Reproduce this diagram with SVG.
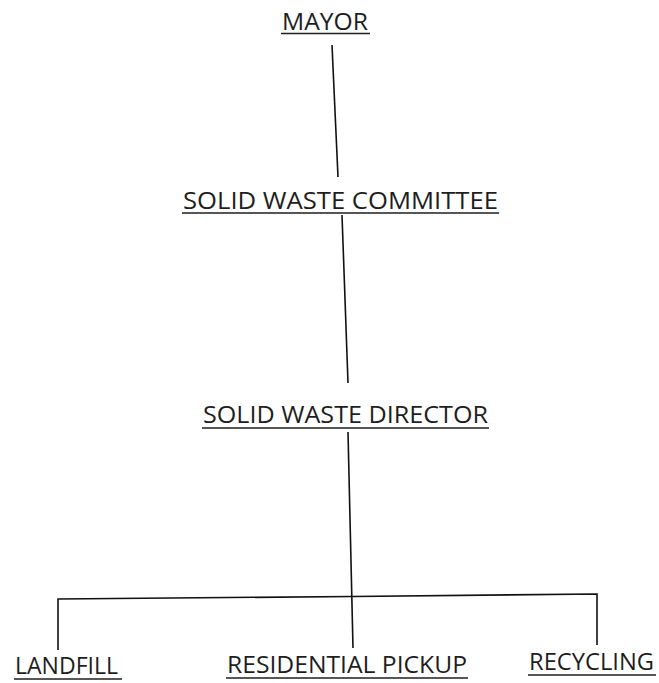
<svg xmlns="http://www.w3.org/2000/svg" width="659" height="683" viewBox="0 0 659 683">
<style>
.lbl{font-family:"Open Sans",Lato,"Liberation Sans",sans-serif;font-size:23px;fill:#1e1e1e;}
.ul{stroke:#1e1e1e;stroke-width:1.6;fill:none;}
.cn{stroke:#111;stroke-width:1.6;fill:none;}
</style>
<rect width="659" height="683" fill="#ffffff"/>
<g id="connectors">
<line class="cn" x1="332" y1="45" x2="338" y2="177"/>
<line class="cn" x1="342" y1="215" x2="348" y2="383"/>
<line class="cn" x1="348" y1="432" x2="353" y2="648"/>
<polyline class="cn" points="58,650 58,599 353,596.5 597,594 597,645"/>
</g>
<g id="mayor">
<text class="lbl" x="282" y="30" textLength="86" lengthAdjust="spacingAndGlyphs">MAYOR</text>
<line class="ul" x1="281" y1="33.5" x2="370" y2="33.5"/>
</g>
<g id="committee">
<text class="lbl" x="183" y="208.5" textLength="315" lengthAdjust="spacingAndGlyphs">SOLID WASTE COMMITTEE</text>
<line class="ul" x1="182" y1="213" x2="499" y2="213"/>
</g>
<g id="director">
<text class="lbl" x="203" y="423" textLength="285" lengthAdjust="spacingAndGlyphs">SOLID WASTE DIRECTOR</text>
<line class="ul" x1="202" y1="428" x2="489" y2="428"/>
</g>
<g id="landfill">
<text class="lbl" x="15" y="674" textLength="103" lengthAdjust="spacingAndGlyphs">LANDFILL</text>
<line class="ul" x1="14" y1="679" x2="122" y2="679"/>
</g>
<g id="residential">
<text class="lbl" x="227" y="673" textLength="240" lengthAdjust="spacingAndGlyphs">RESIDENTIAL PICKUP</text>
<line class="ul" x1="226" y1="678" x2="468" y2="678"/>
</g>
<g id="recycling">
<text class="lbl" x="529" y="670" textLength="125" lengthAdjust="spacingAndGlyphs">RECYCLING</text>
<line class="ul" x1="528" y1="675" x2="656" y2="675"/>
</g>
</svg>
